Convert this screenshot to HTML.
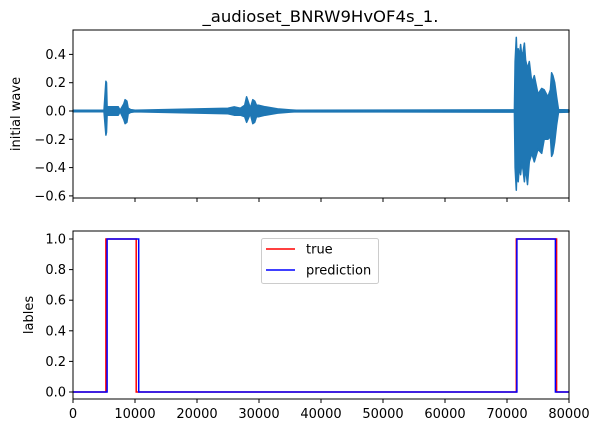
<!DOCTYPE html>
<html><head><meta charset="utf-8"><style>
body{margin:0;background:#fff}
svg{display:block;font-family:"DejaVu Sans","Liberation Sans",sans-serif}
</style></head><body>
<svg id="c" width="601" height="433" xmlns="http://www.w3.org/2000/svg"></svg>
<script>
// waveform envelope: sample index, upper, lower
const waveX   = [0,5000,5300,5400,5500,5600,6000,7300,7600,8200,8400,8700,8900,9300,10000,25000,26000,27000,27700,28000,28300,28600,29000,29300,29600,30000,31000,33000,35000,36000,70000,71200,71300,71500,71600,71800,72000,72200,72400,72600,72800,73000,73300,73600,74000,74400,75000,75600,76000,76600,77000,77200,77400,77700,78000,78300,80000];
const waveHi  = [0.005,0.005,0.21,0.20,0.03,0.03,0.03,0.03,0.005,0.05,0.08,0.07,0.02,0.01,0.005,0.02,0.03,0.02,0.04,0.1,0.06,0.02,0.08,0.07,0.04,0.04,0.03,0.015,0.008,0.005,0.008,0.008,0.35,0.52,0.40,0.44,0.38,0.47,0.38,0.42,0.48,0.36,0.3,0.35,0.2,0.25,0.12,0.16,0.15,0.1,0.15,0.27,0.25,0.2,0.1,0.01,0.008];
const waveLo  = [-0.005,-0.005,-0.17,-0.15,-0.03,-0.03,-0.03,-0.03,-0.005,-0.06,-0.09,-0.08,-0.02,-0.01,-0.005,-0.02,-0.03,-0.03,-0.04,-0.08,-0.05,-0.02,-0.09,-0.08,-0.04,-0.04,-0.03,-0.015,-0.008,-0.005,-0.008,-0.008,-0.4,-0.56,-0.42,-0.5,-0.38,-0.45,-0.36,-0.42,-0.5,-0.4,-0.52,-0.36,-0.3,-0.36,-0.27,-0.3,-0.2,-0.2,-0.18,-0.32,-0.3,-0.22,-0.1,-0.01,-0.008];
const trueX = [0,5300,5300,10200,10200,71500,71500,78000,78000,80000];
const trueY = [0,0,1,1,0,0,1,1,0,0];
const predX = [0,5500,5500,10600,10600,71600,71600,77800,77800,80000];
const predY = [0,0,1,1,0,0,1,1,0,0];
const xTicks = [0,10000,20000,30000,40000,50000,60000,70000,80000];
const yTicksTop = [0.4,0.2,0.0,-0.2,-0.4,-0.6];
const yTicksBot = [0.0,0.2,0.4,0.6,0.8,1.0];

const svg=document.getElementById('c');
const NS='http://www.w3.org/2000/svg';
function el(t,a,p){const e=document.createElementNS(NS,t);for(const k in a)e.setAttribute(k,a[k]);(p||svg).appendChild(e);return e;}
const L=73,R=569;
const sx=v=>L+v/80000*(R-L);
const T1=30,B1=198; const sy1=v=>111-v*141.5;
const T2=231,B2=399; const sy2=v=>392-v*153;
const FS=13;

const title=el('text',{x:320.5,y:22,'font-size':16,'text-anchor':'middle',fill:'#000',textLength:236,lengthAdjust:'spacingAndGlyphs'});


title.textContent='_audioset_BNRW9HvOF4s_1.';

let d='M'+waveX.map((x,i)=>sx(x).toFixed(1)+','+sy1(waveHi[i]).toFixed(1)).join('L');
for(let i=waveX.length-1;i>=0;i--)d+='L'+sx(waveX[i]).toFixed(1)+','+sy1(waveLo[i]).toFixed(1);
const wave=el('path',{d:d+'Z',fill:'#1f77b4',stroke:'#1f77b4','stroke-width':1.5,'stroke-linejoin':'round'});



function line(xs,ys,color,name){
  const p=el('polyline',{points:xs.map((x,i)=>sx(x).toFixed(1)+','+sy2(ys[i]).toFixed(1)).join(' '),fill:'none',stroke:color,'stroke-width':1.5});
  
  
}
line(trueX,trueY,'#ff0000','true-line');
line(predX,predY,'#0000ff','prediction-line');

const f1=el('rect',{x:L,y:T1,width:R-L,height:B1-T1,fill:'none',stroke:'#000','stroke-width':1});


const f2=el('rect',{x:L,y:T2,width:R-L,height:B2-T2,fill:'none',stroke:'#000','stroke-width':1});



xTicks.forEach(v=>{
  const x=sx(v);
  el('line',{x1:x,x2:x,y1:B1,y2:B1+4,stroke:'#000'});
  el('line',{x1:x,x2:x,y1:B2,y2:B2+4,stroke:'#000'});
  const t=el('text',{x:x,y:B2+19,'font-size':FS,'text-anchor':'middle'});
  
  
  t.textContent=v;
});
const fmt=v=>(v<0?'\u2212':'')+Math.abs(v).toFixed(1);
yTicksTop.forEach(v=>{
  const y=sy1(v);
  el('line',{x1:L-4,x2:L,y1:y,y2:y,stroke:'#000'});
  const t=el('text',{x:L-7,y:y+4.5,'font-size':FS,'text-anchor':'end'});
  
  
  t.textContent=fmt(v);
});
yTicksBot.forEach(v=>{
  const y=sy2(v);
  el('line',{x1:L-4,x2:L,y1:y,y2:y,stroke:'#000'});
  const t=el('text',{x:L-7,y:y+4.5,'font-size':FS,'text-anchor':'end'});
  
  
  t.textContent=fmt(v);
});
const yl1=el('text',{transform:'translate(20,114) rotate(-90)','font-size':FS,'text-anchor':'middle'});


yl1.textContent='initial wave';
const yl2=el('text',{transform:'translate(33,315) rotate(-90)','font-size':FS,'text-anchor':'middle'});


yl2.textContent='lables';

const lg=el('g',{});


el('rect',{x:261.5,y:238.5,width:117,height:45,rx:2,fill:'#fff',stroke:'#ccc'},lg);
[['true','#ff0000',249],['prediction','#0000ff',270]].forEach(([n,c,y])=>{
  const g=el('g',{},lg);
  
  
  el('line',{x1:266,x2:295,y1:y,y2:y,stroke:c,'stroke-width':1.5},g);
  const t=el('text',{x:306,y:y+4.5,'font-size':FS},g);
  t.textContent=n;
});
</script>
</body></html>
